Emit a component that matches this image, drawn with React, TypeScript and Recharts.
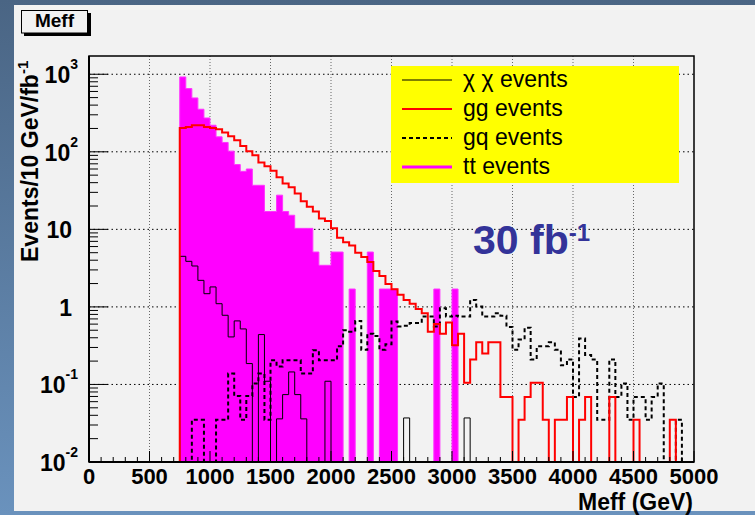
import React from "react";
import { ComposedChart, Area, Line, XAxis, YAxis, CartesianGrid, ReferenceArea } from "recharts";

// 50 GeV bins, lower edges from 750 to 4950 GeV
const binLow = Array.from({ length: 85 }, (_, i) => 750 + 50 * i);
const BIN_WIDTH = 50;

const chiChi = [
  4.49, 3.87, 3.37, 2.2, 1.48, 1.81, 1.1, 0.78, 0.41, 0.66,
  0.52, 0.186, 0, 0.44, 0.11, 0, 0.036, 0.074, 0.145, 0.074,
  0.036, 0, 0, 0, 0.11, 0, 0, 0, 0, 0,
  0, 0, 0, 0, 0, 0, 0, 0.037, 0, 0,
  0, 0, 0, 0, 0, 0, 0, 0.037, 0, 0,
  0, 0, 0, 0, 0, 0, 0, 0, 0, 0,
  0, 0, 0, 0, 0, 0, 0, 0, 0, 0,
  0, 0, 0, 0, 0, 0, 0, 0, 0, 0,
  0, 0, 0, 0, 0,
];

const ggEvents = [
  203, 209, 220, 220, 209, 203, 195, 177, 159, 141,
  119, 102, 90, 73, 65, 57, 47, 39, 35, 29,
  23, 19.5, 17, 13.8, 12.8, 10.3, 7.8, 6.8, 6.2, 5.0,
  4.4, 3.8, 2.9, 2.5, 1.97, 1.69, 1.43, 1.23, 1.1, 0.94,
  0.83, 0.48, 0.6, 0.45, 0.63, 0.32, 0.45, 0.105, 0.21, 0.35,
  0.25, 0.35, 0.35, 0.069, 0.069, 0, 0.035, 0.069, 0.105, 0.105,
  0.035, 0, 0.035, 0.035, 0.069, 0, 0.035, 0.069, 0, 0,
  0, 0.069, 0, 0, 0, 0.035, 0, 0, 0, 0,
  0, 0.035, 0, 0, 0,
];

const gqEvents = [
  0, 0, 0.035, 0.035, 0, 0, 0.035, 0.035, 0.138, 0.071,
  0.035, 0.071, 0.103, 0.138, 0.035, 0.205, 0.17, 0.205, 0.205, 0.205,
  0.138, 0.138, 0.276, 0.205, 0.205, 0.205, 0.31, 0.5, 0.48, 0.66,
  0.28, 0.45, 0.42, 0.28, 0.33, 0.65, 0.56, 0.57, 0.62, 0.62,
  0.75, 0.75, 0.56, 0.96, 0.75, 0.77, 0.75, 0.75, 1.23, 1.01,
  0.75, 0.75, 0.83, 0.77, 0.55, 0.28, 0.38, 0.54, 0.21, 0.31,
  0.31, 0.35, 0.28, 0.177, 0.21, 0.069, 0.39, 0.24, 0.21, 0.035,
  0.035, 0.21, 0.069, 0.103, 0.035, 0.069, 0.069, 0.035, 0.069, 0.103,
  0, 0, 0.035, 0, 0,
];

const ttEvents = [
  923, 654, 495, 354, 273, 220, 156, 132, 102, 68.5,
  56, 60, 37, 37, 17, 17, 27.6, 17, 15.2, 10.3,
  10.3, 10.3, 5.1, 3.44, 3.44, 5.1, 5.1, 0, 1.7, 0,
  0, 5.1, 0, 1.7, 1.7, 1.7, 0, 0, 0, 0,
  0, 0, 1.7, 0, 0, 1.7, 0, 0, 0, 0,
  0, 0, 0, 0, 0, 0, 0, 0, 0, 0,
  0, 0, 0, 0, 0, 0, 0, 0, 0, 0,
  0, 0, 0, 0, 0, 0, 0, 0, 0, 0,
  0, 0, 0, 0, 0,
];

const xTicks = [0, 500, 1000, 1500, 2000, 2500, 3000, 3500, 4000, 4500, 5000];
const yDecades = [0.01, 0.1, 1, 10, 100, 1000];
const yDecadeLabels: [string, string][] = [
  ["10", "-2"], ["10", "-1"], ["1", ""], ["10", ""], ["10", "2"], ["10", "3"],
];

const X_MAX = 5000;
const Y_MIN = 0.01;
const Y_MAX = 1720;
const FONT = "'Liberation Sans', Arial, Helvetica, sans-serif";

// empty bins sit on the bottom of the log axis, as ROOT draws them
const lv = (v: number) => (v > 0 ? v : Y_MIN);

const rows = [
  { x: 0, chi: Y_MIN, gg: Y_MIN, gq: Y_MIN, tt: Y_MIN },
  ...binLow.map((x, i) => ({
    x,
    chi: lv(chiChi[i]),
    gg: lv(ggEvents[i]),
    gq: lv(gqEvents[i]),
    tt: lv(ttEvents[i]),
  })),
];
const last = rows[rows.length - 1];
rows.push({ ...last, x: binLow[binLow.length - 1] + BIN_WIDTH });

const xMinor: number[] = [];
for (let v = 0; v <= X_MAX; v += 100) xMinor.push(v);
const yMinor: number[] = [];
yDecades.forEach((d, i) => {
  yMinor.push(d);
  if (i < yDecades.length - 1) for (let m = 2; m <= 9; m++) yMinor.push(+(m * d).toPrecision(3));
});

function XTick(props: any) {
  const { x, y, payload } = props;
  const major = xTicks.includes(payload.value);
  return (
    <g>
      <line x1={x} x2={x} y1={y} y2={y - (major ? 11 : 5)} stroke="#000" strokeWidth={1} />
      {major && (
        <text x={x} y={y + 22} textAnchor="middle" fontFamily={FONT} fontSize={22} fontWeight="bold" fill="#000">
          {payload.value}
        </text>
      )}
    </g>
  );
}

function YTick(props: any) {
  const { x, y, payload } = props;
  const k = yDecades.indexOf(payload.value);
  const lab = k >= 0 ? yDecadeLabels[k] : null;
  return (
    <g>
      <line x1={x} x2={x + (k >= 0 ? 19 : 9)} y1={y} y2={y} stroke="#000" strokeWidth={1} />
      {lab && (
        <text
          x={lab[1] ? x - 11 : x - 17}
          y={y + 9}
          textAnchor="end"
          fontFamily={FONT}
          fontSize={23}
          fontWeight="bold"
          fill="#000"
        >
          {lab[0]}
          {lab[1] && (
            <tspan dy={-14} fontSize={14}>
              {lab[1]}
            </tspan>
          )}
        </text>
      )}
    </g>
  );
}

const legendItems = [
  { label: "χ χ events", color: "#000", width: 1, dash: undefined as string | undefined },
  { label: "gg events", color: "#ff0000", width: 2, dash: undefined },
  { label: "gq events", color: "#000", width: 2, dash: "4 3" },
  { label: "tt events", color: "#ff00ff", width: 3, dash: undefined },
];

export default function App() {
  return (
    <div
      style={{
        position: "absolute",
        left: 0,
        top: 0,
        width: 755,
        height: 515,
        background: "linear-gradient(180deg, #4a6584 0%, #6a92bd 100%)",
        overflow: "hidden",
      }}
    >
      <div style={{ position: "absolute", left: 14, top: 5, width: 741, height: 506, background: "#f2f2f2" }} />
      <div style={{ position: "absolute", left: 0, top: 0 }}>
        <ComposedChart width={755} height={515} data={rows} margin={{ top: 56, right: 61, bottom: 0, left: 0 }}>
          <CartesianGrid
            horizontal={false}
            verticalValues={[500, 1000, 1500, 2000, 2500, 3000, 3500, 4000, 4500]}
            stroke="#666"
            strokeDasharray="1 2"
          />
          <CartesianGrid
            vertical={false}
            horizontalValues={[0.1, 1, 10, 100, 1000]}
            stroke="#000"
            strokeDasharray="1.5 3"
          />
          <XAxis
            dataKey="x"
            type="number"
            domain={[0, X_MAX]}
            allowDataOverflow
            ticks={xMinor}
            interval={0}
            tickSize={0}
            tickMargin={0}
            tickLine={false}
            tick={<XTick />}
            height={53}
            axisLine={{ stroke: "#000", strokeWidth: 2 }}
          />
          <YAxis
            type="number"
            scale="log"
            domain={[Y_MIN, Y_MAX]}
            allowDataOverflow
            ticks={yMinor}
            interval={0}
            tickSize={0}
            tickMargin={0}
            tickLine={false}
            tick={<YTick />}
            width={89}
            axisLine={{ stroke: "#000", strokeWidth: 2 }}
          />
          <Area
            type="stepAfter"
            dataKey="tt"
            baseValue={Y_MIN}
            stroke="#ff33ff"
            strokeWidth={1}
            fill="#ff00ff"
            fillOpacity={1}
            isAnimationActive={false}
          />
          <Line
            type="stepAfter"
            dataKey="gq"
            stroke="#000"
            strokeWidth={2}
            strokeDasharray="4 3"
            dot={false}
            isAnimationActive={false}
          />
          <Line type="stepAfter" dataKey="chi" stroke="#000" strokeWidth={1} dot={false} isAnimationActive={false} />
          <Line type="stepAfter" dataKey="gg" stroke="#ff0000" strokeWidth={2} dot={false} isAnimationActive={false} />
          <ReferenceArea x1={0} x2={X_MAX} y1={Y_MIN} y2={Y_MAX} fill="none" stroke="#000" strokeWidth={1.5} />
        </ComposedChart>
      </div>
      <svg width={755} height={515} style={{ position: "absolute", left: 0, top: 0, pointerEvents: "none" }}>
        {/* title box */}
        <rect x={24} y={13} width={67} height={23} fill="#000" />
        <rect x={21.5} y={10.5} width={66} height={22.5} fill="#f2f2f2" stroke="#000" strokeWidth={1} />
        <text x={54.5} y={27} textAnchor="middle" fontFamily={FONT} fontSize={19} fontWeight="bold">
          Meff
        </text>
        {/* axis titles */}
        <text transform="translate(37.5,262) rotate(-90)" fontFamily={FONT} fontSize={23} fontWeight="bold">
          Events/10 GeV/fb
          <tspan dy={-10} fontSize={15}>
            -1
          </tspan>
        </text>
        <text x={693} y={510} textAnchor="end" fontFamily={FONT} fontSize={23} fontWeight="bold">
          Meff (GeV)
        </text>
        {/* legend */}
        <rect x={391} y={66} width={288} height={117} fill="#ffff00" />
        {legendItems.map((it, i) => {
          const cy = 80 + i * 29;
          return (
            <g key={it.label}>
              <line x1={402} x2={452} y1={cy} y2={cy} stroke={it.color} strokeWidth={it.width} strokeDasharray={it.dash} />
              <text x={463} y={cy + 7} fontFamily={FONT} fontSize={23} fill="#000">
                {it.label}
              </text>
            </g>
          );
        })}
        <text x={473} y={254} fontFamily={FONT} fontSize={41} fontWeight="bold" fill="#333399">
          30 fb
          <tspan dy={-13} fontSize={24}>
            -1
          </tspan>
        </text>
      </svg>
    </div>
  );
}
